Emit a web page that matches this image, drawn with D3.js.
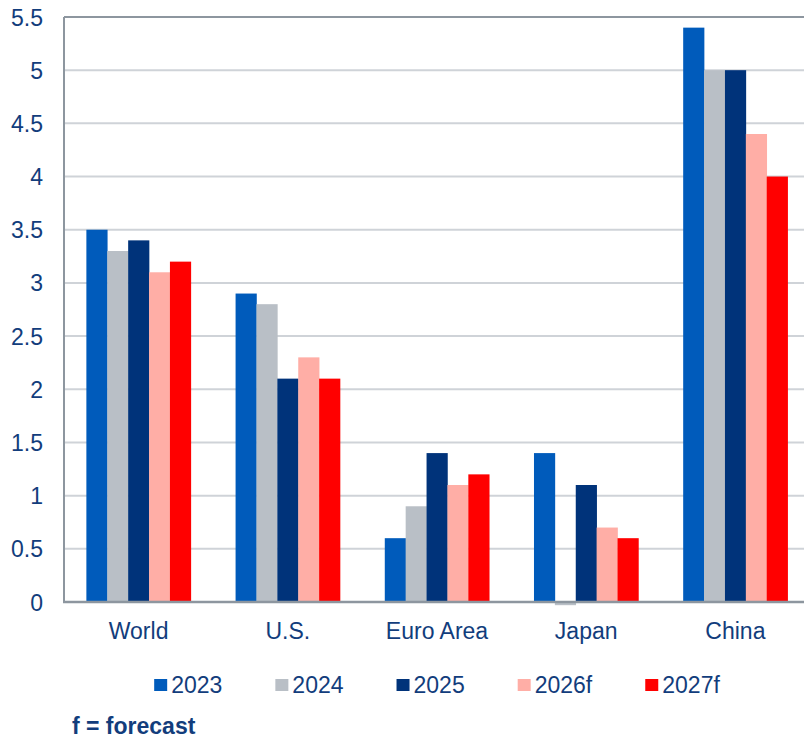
<!DOCTYPE html>
<html>
<head>
<meta charset="utf-8">
<script src="https://cdn.jsdelivr.net/npm/d3@7"></script>
<style>
  html, body { margin: 0; padding: 0; background: #fff; overflow: hidden; }
  svg { display: block; font-family: "Liberation Sans", Arial, sans-serif; }
</style>
</head>
<body>
<svg id="chart" width="804" height="740"></svg>
<script>
// Real GDP growth by economy, percent
const categories = ["World", "U.S.", "Euro Area", "Japan", "China"];
const seriesNames = ["2023", "2024", "2025", "2026f", "2027f"];
const values2023 = [3.5, 2.9, 0.6, 1.4, 5.4];
const values2024 = [3.3, 2.8, 0.9, -0.03, 5.0];
const values2025 = [3.4, 2.1, 1.4, 1.1, 5.0];
const values2026f = [3.1, 2.3, 1.1, 0.7, 4.4];
const values2027f = [3.2, 2.1, 1.2, 0.6, 4.0];
const yTicks = [0, 0.5, 1, 1.5, 2, 2.5, 3, 3.5, 4, 4.5, 5, 5.5];
const footnote = "f = forecast";

const seriesValues = [values2023, values2024, values2025, values2026f, values2027f];
const colors = ["#005bbb", "#b9bfc6", "#00337a", "#ffaea6", "#ff0000"];
const textColor = "#123d7c";
const fontSize = "23px";

const svg = d3.select("#chart");
const plot = { left: 64, right: 810, top: 17, bottom: 602 };

const y = d3.scaleLinear().domain([0, 5.5]).range([plot.bottom, plot.top]);
const x0 = d3.scaleBand().domain(categories).range([plot.left, plot.right])
  .paddingInner(0.3).paddingOuter(0.15);
const x1 = d3.scaleBand().domain(seriesNames).range([0, x0.bandwidth()]);

// horizontal gridlines
svg.append("g").selectAll("line").data(yTicks.filter(t => t > 0 && t < 5.5)).join("line")
  .attr("x1", plot.left).attr("x2", plot.right)
  .attr("y1", d => y(d)).attr("y2", d => y(d))
  .attr("stroke", "#cfd3d8").attr("stroke-width", 2);

// plot frame (top and left)
svg.append("line").attr("x1", plot.left).attr("x2", plot.right)
  .attr("y1", plot.top).attr("y2", plot.top)
  .attr("stroke", "#8d969f").attr("stroke-width", 2);
svg.append("line").attr("x1", plot.left).attr("x2", plot.left)
  .attr("y1", plot.top).attr("y2", plot.bottom)
  .attr("stroke", "#8d969f").attr("stroke-width", 2);

// bars
const groups = svg.append("g").selectAll("g").data(categories).join("g")
  .attr("transform", d => `translate(${x0(d)},0)`);
groups.selectAll("rect")
  .data((c, i) => seriesNames.map((s, j) => ({ s, v: seriesValues[j][i], j })))
  .join("rect")
  .attr("x", d => x1(d.s))
  .attr("width", x1.bandwidth() + 0.3)
  .attr("y", d => y(Math.max(0, d.v)))
  .attr("height", d => Math.abs(y(d.v) - y(0)))
  .attr("fill", d => colors[d.j]);

// baseline
svg.append("line").attr("x1", plot.left - 1).attr("x2", plot.right)
  .attr("y1", plot.bottom).attr("y2", plot.bottom)
  .attr("stroke", "#8d969f").attr("stroke-width", 2.5);

// y axis labels
const yAxis = d3.axisLeft(y).tickValues(yTicks).tickSize(0).tickPadding(0)
  .tickFormat(d3.format("~g"));
const yg = svg.append("g").attr("transform", `translate(43,0)`).call(yAxis);
yg.select(".domain").remove();
yg.selectAll("text").attr("fill", textColor).style("font-size", fontSize)
  .attr("dy", "0.35em");

// x axis labels
const xAxis = d3.axisBottom(x0).tickSize(0).tickPadding(0);
const xg = svg.append("g").attr("transform", `translate(0,${plot.bottom + 20})`).call(xAxis);
xg.select(".domain").remove();
xg.selectAll("text").attr("fill", textColor).style("font-size", fontSize).attr("dy", "0.73em");

// legend, laid out from measured label widths and centred under the plot
const sw = 13, gapText = 4, gapItem = 53, legendY = 685;
const legend = svg.append("g");
const items = legend.selectAll("g").data(seriesNames).join("g");
items.append("rect").attr("x", 0).attr("y", -6).attr("width", sw).attr("height", 12)
  .attr("fill", (d, i) => colors[i]);
items.append("text").attr("x", sw + gapText).attr("y", 0).attr("dy", "0.35em")
  .attr("fill", textColor).style("font-size", fontSize).text(d => d);
let cursor = 0;
const offsets = [];
items.each(function () {
  offsets.push(cursor);
  const w = d3.select(this).select("text").node().getComputedTextLength();
  cursor += sw + gapText + w + gapItem;
});
const legendWidth = cursor - gapItem;
const legendStart = (plot.left + plot.right) / 2 - legendWidth / 2;
items.attr("transform", (d, i) => `translate(${legendStart + offsets[i]},${legendY})`);

// footnote
svg.append("text").attr("x", 72).attr("y", 734)
  .attr("fill", textColor).style("font-size", fontSize).style("font-weight", "bold")
  .text(footnote);
</script>
</body>
</html>
